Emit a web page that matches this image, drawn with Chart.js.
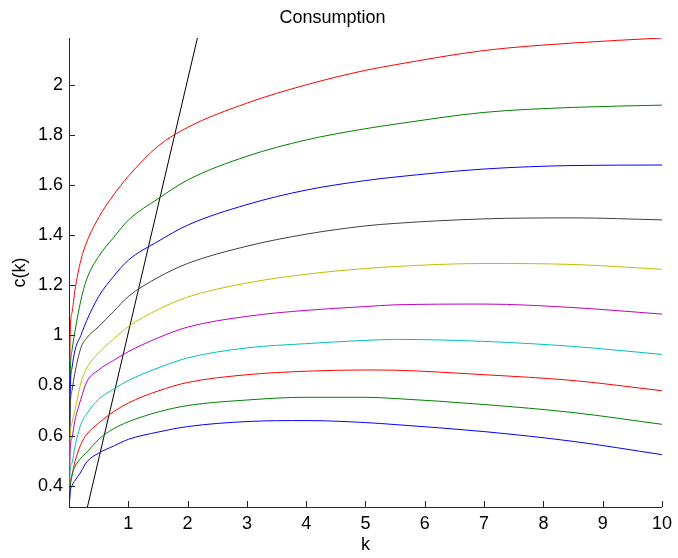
<!DOCTYPE html>
<html>
<head>
<meta charset="utf-8">
<title>Consumption</title>
<script src="https://cdn.jsdelivr.net/npm/chart.js@4.4.1/dist/chart.umd.min.js"></script>
<style>
  html, body { margin: 0; padding: 0; background: #fff; }
  #wrap { width: 678px; height: 558px; }
</style>
</head>
<body>
<div id="wrap"><canvas id="cons" width="678" height="558"></canvas></div>
<script>
const kGrid = [0, 0.02, 0.05, 0.1, 0.2, 0.3, 0.5, 0.75, 1, 1.5, 2, 3, 4, 5, 5.5, 7, 8.5, 10];

// consumption curves, bottom to top
const c1  = [0.3, 0.373, 0.40, 0.42, 0.455, 0.495, 0.53, 0.558, 0.585, 0.614, 0.636, 0.656, 0.66, 0.652, 0.644, 0.616, 0.577, 0.524];
const c2  = [0.3, 0.39, 0.44, 0.475, 0.51, 0.533, 0.585, 0.627, 0.655, 0.694, 0.72, 0.742, 0.753, 0.753, 0.748, 0.724, 0.692, 0.645];
const c3  = [0.3, 0.40, 0.44, 0.495, 0.565, 0.605, 0.65, 0.695, 0.73, 0.778, 0.812, 0.843, 0.857, 0.862, 0.861, 0.843, 0.82, 0.779];
const c4  = [0.3, 0.46, 0.49, 0.555, 0.645, 0.687, 0.745, 0.785, 0.82, 0.87, 0.91, 0.95, 0.967, 0.98, 0.984, 0.976, 0.956, 0.924];
const c5  = [0.3, 0.54, 0.59, 0.66, 0.745, 0.815, 0.862, 0.90, 0.935, 0.99, 1.033, 1.076, 1.10, 1.115, 1.122, 1.125, 1.111, 1.085];
const c6  = [0.3, 0.59, 0.65, 0.70, 0.81, 0.87, 0.93, 0.985, 1.035, 1.103, 1.153, 1.209, 1.244, 1.267, 1.275, 1.287, 1.283, 1.264];
const c7  = [0.3, 0.70, 0.78, 0.85, 0.95, 0.99, 1.035, 1.095, 1.155, 1.231, 1.287, 1.356, 1.404, 1.437, 1.447, 1.465, 1.469, 1.461];
const c8  = [0.3, 0.77, 0.87, 0.94, 1.0, 1.06, 1.155, 1.235, 1.30, 1.375, 1.44, 1.522, 1.58, 1.618, 1.632, 1.664, 1.678, 1.68];
const c9  = [0.3, 0.83, 0.94, 1.015, 1.14, 1.225, 1.315, 1.39, 1.46, 1.545, 1.62, 1.715, 1.78, 1.825, 1.843, 1.89, 1.91, 1.919];
const c10 = [0.3, 1.007, 1.09, 1.18, 1.30, 1.373, 1.47, 1.56, 1.635, 1.755, 1.83, 1.927, 2.0, 2.058, 2.08, 2.137, 2.167, 2.187];

// the straight black line
const lineK = [0.3, 2.2];
const lineC = [0.304, 2.222];

const xTicks = [1, 2, 3, 4, 5, 6, 7, 8, 9, 10];
const yTicks = [0.4, 0.6, 0.8, 1.0, 1.2, 1.4, 1.6, 1.8, 2.0];

// matlab default colour order
const colours = ['#0000ff', '#008000', '#ff0000', '#00bfbf', '#bf00bf', '#bfbf00', '#404040',
                 '#0000ff', '#008000', '#ff0000'];
const curves = [c1, c2, c3, c4, c5, c6, c7, c8, c9, c10];

const axisColour = '#262626';
const font = { family: '"Liberation Sans", Arial, Helvetica, sans-serif', size: 18 };

function pts(xs, ys) {
    return xs.map(function (x, i) { return { x: x, y: ys[i] }; });
}

var datasets = curves.map(function (c, i) {
    return {
        data: pts(kGrid, c),
        borderColor: colours[i],
        borderWidth: 1,
        pointRadius: 0,
        cubicInterpolationMode: 'monotone'
    };
});
datasets.push({
    data: pts(lineK, lineC),
    borderColor: '#000000',
    borderWidth: 1,
    pointRadius: 0
});

// matlab draws tick marks pointing into the axes
var innerTicks = {
    id: 'innerTicks',
    afterDraw: function (chart) {
        var ctx = chart.ctx, a = chart.chartArea;
        var x = chart.scales.x, y = chart.scales.y;
        ctx.save();
        ctx.strokeStyle = axisColour;
        ctx.lineWidth = 1;
        ctx.beginPath();
        xTicks.forEach(function (v) {
            var px = Math.round(x.getPixelForValue(v)) + 0.5;
            ctx.moveTo(px, a.bottom);
            ctx.lineTo(px, a.bottom - 6);
        });
        yTicks.forEach(function (v) {
            var py = Math.round(y.getPixelForValue(v)) + 0.5;
            ctx.moveTo(a.left, py);
            ctx.lineTo(a.left + 6, py);
        });
        ctx.stroke();
        ctx.restore();
    }
};

function fmt(v) {
    return String(Number(v.toFixed(1)));
}

new Chart(document.getElementById('cons'), {
    type: 'line',
    data: { datasets: datasets },
    plugins: [innerTicks],
    options: {
        responsive: false,
        animation: false,
        layout: { padding: { left: 0, right: 13, top: 0, bottom: 0 } },
        plugins: {
            legend: { display: false },
            tooltip: { enabled: false },
            title: {
                display: true,
                text: 'Consumption',
                color: '#000',
                font: { family: font.family, size: 18, weight: 'normal' },
                padding: { top: 7.5, bottom: 8.9 }
            }
        },
        scales: {
            x: {
                type: 'linear',
                min: 0,
                max: 10,
                afterBuildTicks: function (s) { s.ticks = xTicks.map(function (v) { return { value: v }; }); },
                afterFit: function (s) { s.height = 51; },
                grid: { display: false, drawTicks: false },
                border: { display: true, color: axisColour, width: 1 },
                ticks: { color: '#000', font: font, padding: 6, maxRotation: 0, callback: fmt },
                title: { display: true, text: 'k', color: '#000', font: font, padding: { top: 0, bottom: 2 } }
            },
            y: {
                type: 'linear',
                min: 0.315,
                max: 2.187,
                afterBuildTicks: function (s) { s.ticks = yTicks.map(function (v) { return { value: v }; }); },
                afterFit: function (s) { s.width = 69; },
                grid: { display: false, drawTicks: false },
                border: { display: true, color: axisColour, width: 1 },
                ticks: { color: '#000', font: font, padding: 6, callback: fmt },
                title: { display: true, text: 'c(k)', color: '#000', font: font, padding: { top: 9, bottom: 0 } }
            }
        }
    }
});
</script>
</body>
</html>
